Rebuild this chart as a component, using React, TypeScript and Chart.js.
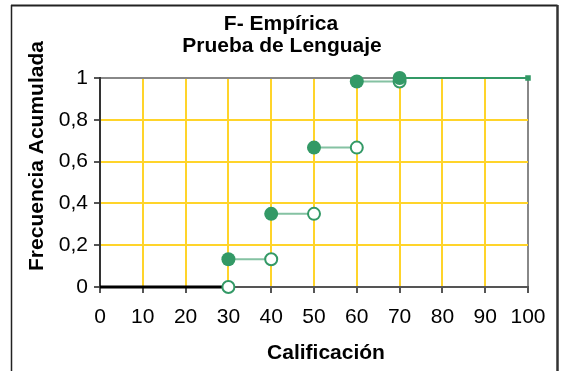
import React, { useEffect, useRef } from "react";
import { Chart, registerables } from "chart.js";

Chart.register(...registerables);

const titleLines = ["F- Empírica", "Prueba de Lenguaje"];
const xAxisTitle = "Calificación";
const yAxisTitle = "Frecuencia Acumulada";
const scores = [30, 40, 50, 60, 70];
const cumulative = [0.133, 0.35, 0.667, 0.983, 1];
const xMin = 0;
const xMax = 100;
const xStep = 10;
const yMin = 0;
const yMax = 1;
const yStep = 0.2;

const GREEN = "#339966";
const GOLD = "#FFD42A";
const FONT = "'Liberation Sans', Arial, sans-serif";

const filledPts = scores.map((x, i) => ({ x, y: cumulative[i] }));
const openPts = scores.map((x, i) => ({ x, y: i === 0 ? 0 : cumulative[i - 1] }));
const segPts: { x: number; y: number | null }[] = [];
for (let i = 0; i < scores.length - 1; i++) {
  segPts.push({ x: scores[i], y: cumulative[i] });
  segPts.push({ x: scores[i + 1], y: cumulative[i] });
  segPts.push({ x: scores[i + 1], y: null });
}
const lastPts = [
  { x: scores[scores.length - 1], y: cumulative[cumulative.length - 1] },
  { x: xMax, y: cumulative[cumulative.length - 1] },
];
const zeroPts = [
  { x: xMin, y: 0 },
  { x: scores[0], y: 0 },
];

const decorPlugin = {
  id: "decor",
  afterDraw(chart: any) {
    const ctx = chart.ctx;
    ctx.save();
    // outer frame
    ctx.strokeStyle = "#222";
    ctx.lineWidth = 2;
    ctx.beginPath();
    ctx.moveTo(11, 5.5);
    ctx.lineTo(557.5, 5.5);
    ctx.stroke();
    ctx.lineWidth = 1.5;
    ctx.beginPath();
    ctx.moveTo(11.5, 5);
    ctx.lineTo(11.5, 371);
    ctx.stroke();
    ctx.strokeStyle = "#333";
    ctx.lineWidth = 2.5;
    ctx.beginPath();
    ctx.moveTo(557.5, 5);
    ctx.lineTo(557.5, 371);
    ctx.stroke();
    // titles
    ctx.fillStyle = "#000";
    ctx.font = `bold 21px ${FONT}`;
    ctx.textAlign = "center";
    ctx.textBaseline = "alphabetic";
    ctx.fillText(titleLines[0], 281, 30);
    ctx.fillText(titleLines[1], 282, 52);
    ctx.font = `bold 21px ${FONT}`;
    ctx.fillText(xAxisTitle, 326, 359);
    ctx.save();
    ctx.translate(43, 156);
    ctx.rotate(-Math.PI / 2);
    ctx.font = `bold 21px ${FONT}`;
    ctx.fillText(yAxisTitle, 0, 0);
    ctx.restore();
    ctx.restore();
  },
};

export default function App() {
  const ref = useRef<HTMLCanvasElement | null>(null);
  useEffect(() => {
    if (!ref.current) return;
    const chart = new Chart(ref.current, {
      type: "scatter",
      data: {
        datasets: [
          {
            data: filledPts,
            backgroundColor: GREEN,
            borderColor: GREEN,
            pointRadius: 7,
            pointBorderWidth: 0,
            showLine: false,
            clip: false,
          } as any,
          {
            data: openPts,
            backgroundColor: "#fff",
            borderColor: GREEN,
            pointRadius: 6,
            pointBorderWidth: 2,
            showLine: false,
            clip: false,
          },
          {
            data: segPts,
            borderColor: "rgba(51,153,102,0.6)",
            borderWidth: 2,
            pointRadius: 0,
            showLine: true,
            spanGaps: false,
            clip: false,
          },
          {
            data: lastPts,
            borderColor: GREEN,
            backgroundColor: GREEN,
            borderWidth: 2,
            pointRadius: [0, 2.5],
            pointStyle: "rect",
            showLine: true,
            clip: false,
          },
          {
            data: zeroPts,
            borderColor: "#000",
            borderWidth: 3,
            pointRadius: 0,
            showLine: true,
            clip: false,
          },
        ],
      },
      options: {
        animation: false,
        responsive: false,
        events: [],
        layout: { padding: { top: 78, left: 0, right: 33, bottom: 0 } },
        plugins: {
          legend: { display: false },
          tooltip: { enabled: false },
          title: { display: false },
        },
        scales: {
          x: {
            type: "linear",
            min: xMin,
            max: xMax,
            ticks: {
              stepSize: xStep,
              color: "#000",
              font: { family: FONT, size: 21 },
              padding: 12,
              maxRotation: 0,
            },
            grid: {
              color: (c: any) =>
                c.tick && c.tick.value === xMax ? "#888" : GOLD,
              lineWidth: 2,
              tickColor: "#555",
              tickLength: 6,
            },
            border: { color: "#555", width: 2 },
            afterFit(scale: any) {
              scale.height = 84;
            },
          },
          y: {
            type: "linear",
            min: yMin,
            max: yMax,
            ticks: {
              stepSize: yStep,
              color: "#000",
              font: { family: FONT, size: 21 },
              padding: 6,
              callback: (v: any) =>
                String(Number(Number(v).toFixed(1))).replace(".", ","),
            },
            grid: {
              color: (c: any) =>
                c.tick && c.tick.value === yMax ? "#888" : GOLD,
              lineWidth: 2,
              tickColor: "#555",
              tickLength: 6,
            },
            border: { color: "#333", width: 2 },
            afterFit(scale: any) {
              scale.width = 100;
            },
          },
        },
      },
      plugins: [decorPlugin],
    } as any);
    return () => chart.destroy();
  }, []);
  return (
    <div style={{ position: "absolute", left: 0, top: 0, width: 561, height: 371, background: "#fff" }}>
      <canvas ref={ref} width={561} height={371} style={{ display: "block" }} />
    </div>
  );
}
